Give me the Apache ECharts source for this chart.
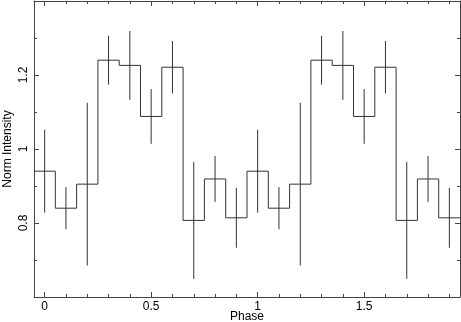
<!DOCTYPE html>
<html>
<head>
<meta charset="utf-8">
<script src="https://cdn.jsdelivr.net/npm/echarts@6/dist/echarts.min.js"></script>
<style>
  html, body { margin: 0; padding: 0; background: #fff; }
  #main { width: 461px; height: 322px; }
</style>
</head>
<body>
<div id="main"></div>
<script>
// bin centres (two cycles of the folded profile)
const phase = [0, 0.1, 0.2, 0.3, 0.4, 0.5, 0.6, 0.7, 0.8, 0.9,
               1.0, 1.1, 1.2, 1.3, 1.4, 1.5, 1.6, 1.7, 1.8, 1.9]
const intensity = [0.94, 0.84, 0.905, 1.24, 1.226, 1.088, 1.221, 0.807, 0.919, 0.814,
                   0.94, 0.84, 0.905, 1.24, 1.226, 1.088, 1.221, 0.807, 0.919, 0.814]
const errors = [0.112, 0.057, 0.22, 0.066, 0.093, 0.074, 0.071, 0.158, 0.062, 0.081,
                0.112, 0.057, 0.22, 0.066, 0.093, 0.074, 0.071, 0.158, 0.062, 0.081]
const binWidth = 0.1

const font = 'Liberation Sans, Arial, Helvetica, sans-serif'
const lineColor = '#333'

// step line built from the bin edges
let stepData = phase.map((p, i) => [p - binWidth / 2, intensity[i]])
stepData.push([phase[phase.length - 1] + binWidth / 2, intensity[intensity.length - 1]])

const errData = phase.map((p, i) => [p, intensity[i] - errors[i], intensity[i] + errors[i]])

let myChart = echarts.init(document.getElementById('main'))

const xBase = {
  type: 'value',
  min: -0.05,
  max: 1.95,
  splitNumber: 4,
  splitLine: {show: false},
  axisLine: {show: true, onZero: false, lineStyle: {color: '#444', width: 1}},
  axisTick: {show: true, inside: true, length: 5, lineStyle: {color: '#444'}},
  minorTick: {show: true, splitNumber: 5, length: 3, lineStyle: {color: '#444'}},
}
const yBase = {
  type: 'value',
  min: 0.6,
  max: 1.4,
  interval: 0.2,
  splitLine: {show: false},
  axisLine: {show: true, onZero: false, lineStyle: {color: '#444', width: 1}},
  axisTick: {show: true, inside: true, length: 5, lineStyle: {color: '#444'}},
  minorTick: {show: true, splitNumber: 2, length: 3, lineStyle: {color: '#444'}},
}

let option = {
  animation: false,
  backgroundColor: '#fff',
  grid: {left: 34, right: 1, top: 1, bottom: 25, containLabel: false, outerBoundsMode: 'none'},
  xAxis: [
    Object.assign({}, xBase, {
      position: 'bottom',
      name: 'Phase',
      nameLocation: 'middle',
      nameGap: 14,
      nameMoveOverlap: false,
      nameTextStyle: {fontFamily: font, fontSize: 12, color: '#000'},
      axisLabel: {
        showMinLabel: false, showMaxLabel: false,
        fontFamily: font, fontSize: 12, color: '#000', margin: 4
      }
    }),
    Object.assign({}, xBase, {position: 'top', axisLabel: {show: false}})
  ],
  yAxis: [
    Object.assign({}, yBase, {
      position: 'left',
      name: 'Norm Intensity',
      nameLocation: 'middle',
      nameRotate: 90,
      nameGap: 20,
      nameMoveOverlap: false,
      nameTextStyle: {fontFamily: font, fontSize: 12, color: '#000'},
      axisLabel: {
        showMinLabel: false, showMaxLabel: false, rotate: 90,
        fontFamily: font, fontSize: 12, color: '#000', margin: 4
      }
    }),
    Object.assign({}, yBase, {position: 'right', axisLabel: {show: false}})
  ],
  series: [
    {
      name: 'profile',
      type: 'line',
      step: 'end',
      data: stepData,
      symbol: 'none',
      lineStyle: {color: lineColor, width: 1},
      z: 3
    },
    {
      name: 'errors',
      type: 'custom',
      data: errData,
      renderItem: (params, api) => {
        const lo = api.coord([api.value(0), api.value(1)])
        const hi = api.coord([api.value(0), api.value(2)])
        return {
          type: 'line',
          shape: {x1: lo[0], y1: lo[1], x2: hi[0], y2: hi[1]},
          style: {stroke: lineColor, lineWidth: 1}
        }
      },
      z: 2
    }
  ]
}
myChart.setOption(option)
</script>
</body>
</html>
